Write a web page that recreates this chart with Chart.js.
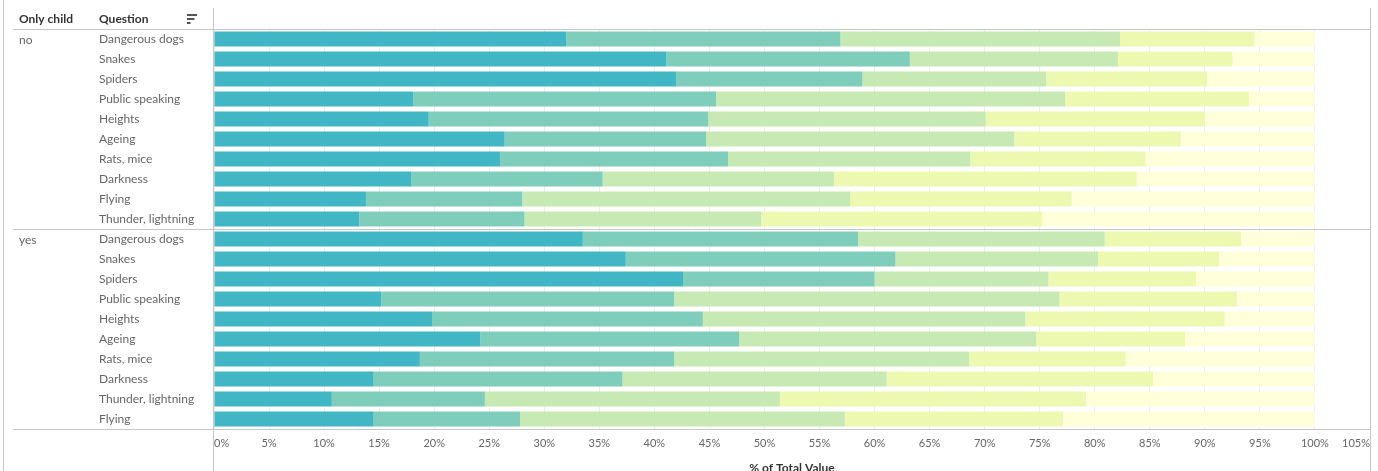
<!DOCTYPE html>
<html>
<head>
<meta charset="utf-8">
<title>Fears by only child</title>
<script src="https://cdn.jsdelivr.net/npm/chart.js@4.4.1/dist/chart.umd.min.js"></script>
<style>
    html, body { margin: 0; padding: 0; overflow: hidden; background: #fff; }
    #wrap { position: relative; width: 1378px; height: 480px; }
</style>
</head>
<body>
<div id="wrap"><canvas id="fearChart"></canvas></div>
<script>
const groups = ["no", "yes"];
const questionsNo = ["Dangerous dogs", "Snakes", "Spiders", "Public speaking", "Heights",
    "Ageing", "Rats, mice", "Darkness", "Flying", "Thunder, lightning"];
const questionsYes = ["Dangerous dogs", "Snakes", "Spiders", "Public speaking", "Heights",
    "Ageing", "Rats, mice", "Darkness", "Thunder, lightning", "Flying"];

// share of answers per level, % of total (first 10 = "no", last 10 = "yes")
const level1 = [32.0, 41.1, 42.0, 18.1, 19.5, 26.4, 26.0, 17.9, 13.8, 13.2,
                33.5, 37.4, 42.6, 15.2, 19.8, 24.2, 18.7, 14.5, 10.7, 14.5];
const level2 = [24.9, 22.1, 16.9, 27.5, 25.4, 18.3, 20.7, 17.4, 14.2, 15.0,
                25.0, 24.5, 17.4, 26.6, 24.6, 23.5, 23.1, 22.6, 13.9, 13.3];
const level3 = [25.4, 18.9, 16.7, 31.7, 25.2, 28.0, 22.0, 21.0, 29.8, 21.5,
                22.4, 18.4, 15.8, 35.0, 29.3, 27.0, 26.8, 24.0, 26.8, 29.5];
const level4 = [12.2, 10.4, 14.6, 16.7, 19.9, 15.1, 15.9, 27.5, 20.1, 25.5,
                12.4, 11.0, 13.4, 16.1, 18.1, 13.5, 14.2, 24.2, 27.8, 19.8];
const level5 = [5.5, 7.5, 9.8, 6.0, 10.0, 12.2, 15.4, 16.2, 22.1, 24.8,
                6.7, 8.7, 10.8, 7.1, 8.2, 11.8, 17.2, 14.7, 20.8, 22.9];

const levelNames = ["1", "2", "3", "4", "5"];
const levelColors = ["#41b6c4", "#7fcdbb", "#c7e9b4", "#edf8b1", "#ffffd9"];

const FONT = "Lato, 'Open Sans', sans-serif";
const LINE = "#c8c8c8";

const labels = questionsNo.concat(questionsYes);
const levels = [level1, level2, level3, level4, level5];

const tableHeader = {
    id: "tableHeader",
    afterDraw(chart) {
        const ctx = chart.ctx;
        const area = chart.chartArea;
        const y = chart.scales.y;
        ctx.save();
        ctx.strokeStyle = LINE;
        ctx.lineWidth = 1;
        // frame lines
        ctx.beginPath();
        ctx.moveTo(3.5, 0); ctx.lineTo(3.5, 480);
        ctx.moveTo(area.left - 0.5, 8); ctx.lineTo(area.left - 0.5, 480);
        ctx.moveTo(area.right + 0.5, 8); ctx.lineTo(area.right + 0.5, 480);
        const mid = (y.getPixelForValue(9) + y.getPixelForValue(10)) / 2;
        [area.top, mid, area.bottom].forEach(function (py) {
            const yy = Math.round(py) + 0.5;
            ctx.moveTo(13, yy); ctx.lineTo(area.right + 0.5, yy);
        });
        ctx.stroke();

        // header texts
        ctx.fillStyle = "#333";
        ctx.font = "bold 12px " + FONT;
        ctx.textBaseline = "middle";
        ctx.textAlign = "left";
        ctx.fillText("Only child", 19, 19);
        ctx.fillText("Question", 99, 19);

        // sort icon
        ctx.fillStyle = "#555";
        ctx.fillRect(187, 14, 10, 2);
        ctx.fillRect(187, 18, 7.5, 2);
        ctx.fillRect(187, 22, 3.5, 2);

        // group labels
        ctx.fillStyle = "#666";
        ctx.font = "12px " + FONT;
        ctx.fillText(groups[0], 19, y.getPixelForValue(0) + 1);
        ctx.fillText(groups[1], 19, y.getPixelForValue(10) + 1);
        ctx.restore();
    }
};

const ctx = document.getElementById("fearChart").getContext("2d");
window.myChart = new Chart(ctx, {
    type: "bar",
    data: {
        labels: labels,
        datasets: levels.map(function (vals, i) {
            return {
                label: levelNames[i],
                data: vals,
                backgroundColor: levelColors[i],
                borderWidth: 0,
                categoryPercentage: 1,
                barPercentage: 0.75
            };
        })
    },
    options: {
        indexAxis: "y",
        responsive: true,
        maintainAspectRatio: false,
        animation: false,
        layout: { padding: { left: 99, top: 29, right: 7, bottom: 0 } },
        plugins: {
            legend: { display: false },
            tooltip: { enabled: false }
        },
        scales: {
            x: {
                stacked: true,
                min: 0,
                max: 105,
                afterFit: function (scale) { scale.height = 51; },
                ticks: {
                    stepSize: 5,
                    autoSkip: false,
                    maxRotation: 0,
                    align: "inner",
                    padding: 8,
                    color: "#666",
                    font: { family: FONT, size: 11 },
                    callback: function (v) { return v + "%"; }
                },
                grid: { color: "#ececec", drawTicks: false },
                border: { display: false },
                title: {
                    display: true,
                    text: "% of Total Value",
                    color: "#333",
                    font: { family: FONT, size: 12, weight: "bold" },
                    padding: { top: 0, bottom: 5 }
                }
            },
            y: {
                stacked: true,
                afterFit: function (scale) { scale.width = 115; },
                ticks: {
                    crossAlign: "far",
                    autoSkip: false,
                    color: "#666",
                    font: { family: FONT, size: 12 }
                },
                grid: { display: false, drawTicks: false },
                border: { display: false }
            }
        }
    },
    plugins: [tableHeader]
});
</script>
</body>
</html>
